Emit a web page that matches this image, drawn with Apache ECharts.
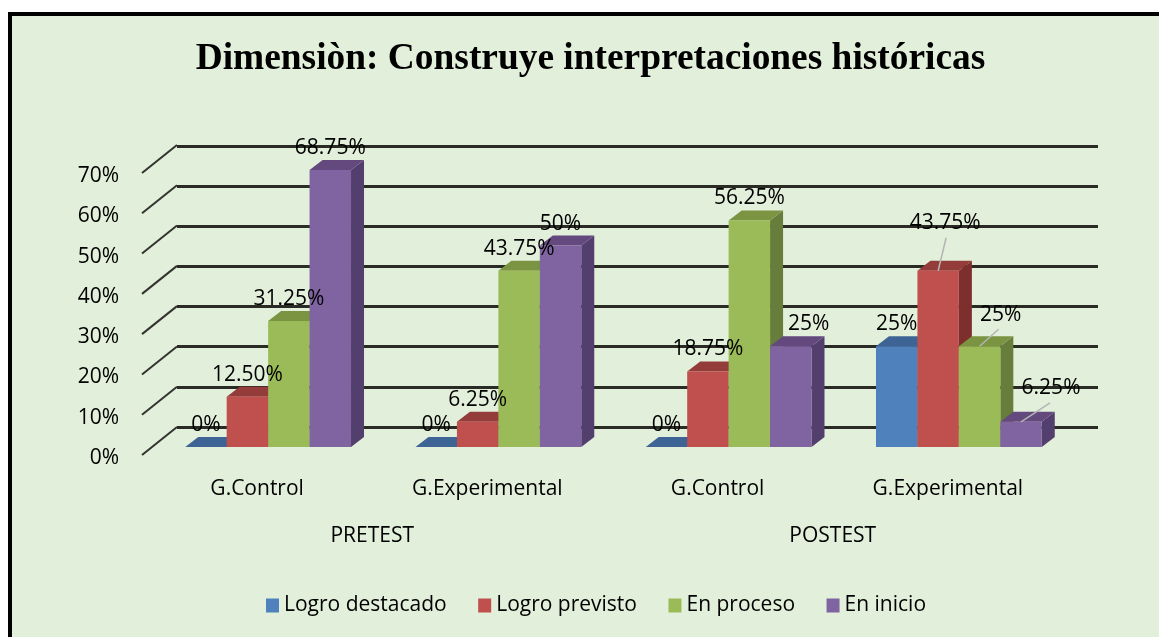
<!DOCTYPE html>
<html><head><meta charset="utf-8">
<style>
html,body{margin:0;padding:0;background:#fff;overflow:hidden}
#frame{position:absolute;left:8px;top:12px;width:1200px;height:700px;border:4px solid #000;background:#e2efda}
#chart{position:absolute;left:0;top:0;width:1159px;height:637px}
</style>
<script src="https://cdn.jsdelivr.net/npm/echarts@6/dist/echarts.min.js"></script>
</head><body><div id="frame"></div><div id="chart"></div>
<script>
var titleText = 'Dimensiòn: Construye interpretaciones históricas';
var groupLabels = ['G.Control', 'G.Experimental', 'G.Control', 'G.Experimental'];
var stageLabels = ['PRETEST', 'POSTEST'];
var yTicks = [0, 10, 20, 30, 40, 50, 60, 70];
var logroDestacado = [0, 0, 0, 25];
var logroPrevisto = [12.5, 6.25, 18.75, 43.75];
var enProceso = [31.25, 43.75, 56.25, 25];
var enInicio = [68.75, 50, 25, 6.25];
var textDestacado = ['0%', '0%', '0%', '25%'];
var textPrevisto = ['12.50%', '6.25%', '18.75%', '43.75%'];
var textProceso = ['31.25%', '43.75%', '56.25%', '25%'];
var textInicio = ['68.75%', '50%', '25%', '6.25%'];

var FONT = '"Open Sans"';
var FS = 21;
var depthX = 13, depthY = 10, liftY = 8, shiftX = 11;
var wallX = 35, wallY = 28;

function shiftFor(s, c) {
  if (s === 3 && c === 2) return {d: [18, 0]};
  if (s === 1 && c === 3) return {d: [7, -26], l: [8, -33]};
  if (s === 2 && c === 3) return {d: [21, -9], l: [19, -17]};
  if (s === 3 && c === 3) return {d: [30, -12], l: [29, -19]};
  return {d: [0, 0]};
}

function barBox(api, pos) {
  var cat = api.value(0), val = api.value(1);
  var base = api.coord([cat, 0]);
  var head = api.coord([cat, val]);
  var band = api.size([1, 0])[0];
  var bw = band * 0.18;
  var x0 = base[0] + shiftX + (pos - 2) * bw;
  return {cat: cat, x0: x0, x1: x0 + bw, yb: base[1] - liftY, yt: head[1] - liftY};
}

function barRender(pos, front, top, side) {
  return function (params, api) {
    var b = barBox(api, pos);
    return {type: 'group', children: [
      {type: 'polygon', shape: {points: [[b.x1, b.yb], [b.x1 + depthX, b.yb - depthY], [b.x1 + depthX, b.yt - depthY], [b.x1, b.yt]]}, style: {fill: side}},
      {type: 'polygon', shape: {points: [[b.x0, b.yt], [b.x0 + depthX, b.yt - depthY], [b.x1 + depthX, b.yt - depthY], [b.x1, b.yt]]}, style: {fill: top}},
      {type: 'rect', shape: {x: b.x0, y: b.yt, width: b.x1 - b.x0, height: b.yb - b.yt}, style: {fill: front}}
    ]};
  };
}

function labelRender(pos, texts) {
  return function (params, api) {
    var b = barBox(api, pos);
    var sh = shiftFor(pos, b.cat);
    var cx = (b.x0 + b.x1) / 2;
    var kids = [];
    if (sh.l) {
      kids.push({type: 'line', shape: {x1: cx, y1: b.yt, x2: cx + sh.l[0], y2: b.yt + sh.l[1]}, style: {stroke: '#b4b4b4', lineWidth: 1.5}});
    }
    kids.push({type: 'text', style: {text: texts[b.cat], x: cx + sh.d[0], y: b.yt - 22 + sh.d[1], align: 'center', verticalAlign: 'middle', fontFamily: FONT, fontSize: FS, fill: '#000'}});
    return {type: 'group', children: kids};
  };
}

function pairs(values) { return values.map(function (v, i) { return [i, v]; }); }

function makeBar(name, values, pos, front, top, side) {
  return {
    name: name, type: 'custom', xAxisIndex: 0, yAxisIndex: 0, z: 5 + pos, clip: false,
    itemStyle: {color: front}, encode: {x: 0, y: 1}, data: pairs(values),
    renderItem: barRender(pos, front, top, side)
  };
}
function makeLabels(name, values, texts, pos) {
  return {
    name: name + ' etiquetas', type: 'custom', xAxisIndex: 0, yAxisIndex: 0, z: 20, clip: false, silent: true,
    encode: {x: 0, y: 1}, data: pairs(values), renderItem: labelRender(pos, texts)
  };
}

var chart = echarts.init(document.getElementById('chart'), null, {renderer: 'canvas'});
chart.setOption({
  animation: false,
  backgroundColor: 'transparent',
  title: {text: titleText, left: 585.5, top: 36, textAlign: 'center',
    textStyle: {fontFamily: '"Liberation Serif"', fontWeight: 'bold', fontSize: 37.4, color: '#000'}},
  legend: {left: 261, top: 590, itemWidth: 13, itemHeight: 14, itemGap: 31.5, icon: 'rect',
    textStyle: {fontFamily: FONT, fontSize: FS, color: '#000'},
    data: ['Logro destacado', 'Logro previsto', 'En proceso', 'En inicio']},
  grid: [
    {left: 142, right: 96, top: 173, bottom: 182},
    {left: 177, right: 61, top: 146, bottom: 210},
    {left: 142, right: 96, top: 176, bottom: 179}
  ],
  xAxis: [
    {type: 'category', gridIndex: 0, data: groupLabels, axisLine: {show: false}, axisTick: {show: false},
      axisLabel: {margin: 24, fontFamily: FONT, fontSize: FS, color: '#000'}},
    {type: 'category', gridIndex: 0, position: 'bottom', offset: 47, data: stageLabels, axisLine: {show: false}, axisTick: {show: false},
      axisLabel: {margin: 24, fontFamily: FONT, fontSize: FS, color: '#000'}},
    {type: 'category', gridIndex: 1, data: stageLabels, show: false},
    {type: 'category', gridIndex: 2, data: stageLabels, show: false}
  ],
  yAxis: [
    {type: 'value', gridIndex: 0, min: 0, max: 70, interval: 10, show: false},
    {type: 'value', gridIndex: 1, min: 0, max: 70, interval: 10, axisLine: {show: false}, axisTick: {show: false},
      axisLabel: {show: false},
      splitLine: {show: true, lineStyle: {color: '#2b2b25', width: 3}}},
    {type: 'value', gridIndex: 2, min: 0, max: 70, interval: 10, axisLine: {show: false}, axisTick: {show: false},
      splitLine: {show: false},
      axisLabel: {margin: 23, formatter: '{value}%', fontFamily: FONT, fontSize: FS, color: '#000'}}
  ],
  series: [
    {
      name: 'walls', type: 'custom', xAxisIndex: 0, yAxisIndex: 0, z: 1, clip: false, silent: true,
      encode: {y: 0}, data: yTicks.map(function (t) { return [t]; }),
      renderItem: function (params, api) {
        var p = api.coord([0, api.value(0)]);
        var left = p[0] - api.size([1, 0])[0] / 2;
        return {type: 'line', shape: {x1: left, y1: p[1], x2: left + wallX, y2: p[1] - wallY},
          style: {stroke: '#333330', lineWidth: 2}};
      }
    },
    makeBar('Logro destacado', logroDestacado, 0, '#4f81bd', '#3e6496', '#3a5f8b'),
    makeBar('Logro previsto', logroPrevisto, 1, '#c0504d', '#943c39', '#7c2f2d'),
    makeBar('En proceso', enProceso, 2, '#9bbb59', '#7a9442', '#677d3b'),
    makeBar('En inicio', enInicio, 3, '#8064a2', '#63497d', '#533f6e'),
    makeLabels('Logro destacado', logroDestacado, textDestacado, 0),
    makeLabels('Logro previsto', logroPrevisto, textPrevisto, 1),
    makeLabels('En proceso', enProceso, textProceso, 2),
    makeLabels('En inicio', enInicio, textInicio, 3)
  ]
});
</script></body></html>
